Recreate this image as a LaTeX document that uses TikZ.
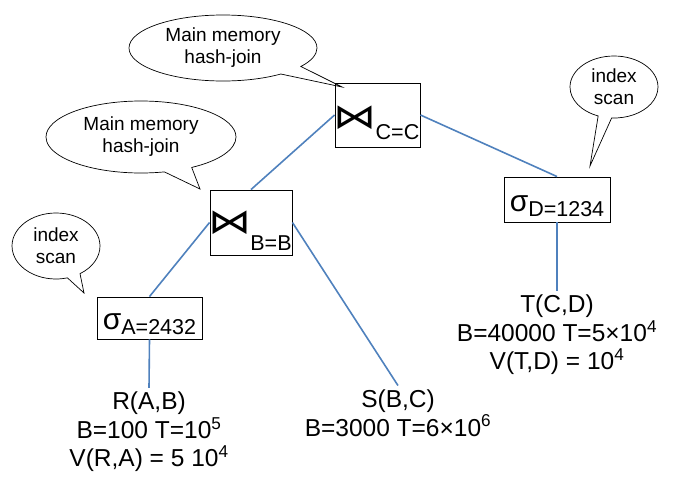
\documentclass[tikz,border=0pt]{standalone}
\usepackage{fontspec}
\usepackage{graphicx}
\setmainfont{Liberation Sans}
\newfontfamily\symfont{DejaVu Sans}
\usetikzlibrary{shapes.callouts}
\definecolor{linkblue}{RGB}{79,129,189}
\newcommand{\jointie}{\kern-2pt\scalebox{1}[0.8]{\symfont\fontsize{43}{43}\selectfont ⋈}\kern-1pt}
\newcommand{\selsig}{{\fontsize{30}{30}\selectfont σ}}

\begin{document}
\begin{tikzpicture}[x=1pt, y=-1pt,
    opbox/.style={draw=black, line width=0.9pt, rectangle, inner xsep=0pt, inner ysep=0pt, font=\fontsize{21.5}{21.5}\selectfont},
    relnote/.style={align=center, inner sep=4pt, font=\fontsize{24.5}{28.5}\selectfont},
    bubble/.style={ellipse callout, draw=black, line width=0.7pt, inner sep=0pt, align=center, callout pointer arc=18, font=\fontsize{19}{22}\selectfont},
    link/.style={draw=linkblue, line width=1.6pt}]
  \useasboundingbox (0,0) rectangle (678,480);

  % operators
  \node[opbox, minimum width=85pt, text height=45pt, text depth=19pt] (joinCC) at (377.5,115) {\jointie\raisebox{-11pt}{C=C}};
  \node[opbox, minimum width=82pt, text height=43pt, text depth=22pt] (joinBB) at (251,222.5) {\jointie\raisebox{-17pt}{B=B}};
  \node[opbox, minimum width=105pt, text height=32pt, text depth=10pt] (selA) at (149.5,318) {\selsig\raisebox{-5pt}{A=2432}};
  \node[opbox, minimum width=106pt, text height=34pt, text depth=11pt] (selD) at (557,199.5) {\selsig\raisebox{-5pt}{D=1234}};

  % relations
  \node[relnote] (relR) at (149,432) {R(A,B)\\B=100 T=10\textsuperscript{5}\\V(R,A) = 5 10\textsuperscript{4}};
  \node[relnote] (relS) at (398,413) {S(B,C)\\B=3000 T=6×10\textsuperscript{6}};
  \node[relnote] (relT) at (557,335) {T(C,D)\\B=40000 T=5×10\textsuperscript{4}\\V(T,D) = 10\textsuperscript{4}};

  % tree edges
  \draw[link] (joinCC.west) -- (joinBB.north);
  \draw[link] (joinCC.east) -- (selD.north);
  \draw[link] (joinBB.west) -- (selA.north);
  \draw[link] (joinBB.east) -- (relS.north);
  \draw[link] (selA.south) -- (relR.north);
  \draw[link] (selD.south) -- (relT.north);

  % remarks
  \coordinate (tipCC) at (342,87);
  \coordinate (tipBB) at (200,189);
  \coordinate (tipA) at (84,293);
  \coordinate (tipD) at (590,166);
  \node[bubble, minimum width=188pt, minimum height=66pt, callout absolute pointer={(tipCC)}] (noteCC) at (223,48) {Main memory\\hash-join};
  \node[bubble, minimum width=190pt, minimum height=72pt, callout absolute pointer={(tipBB)}] (noteBB) at (141,137) {Main memory\\hash-join};
  \node[bubble, minimum width=88pt, minimum height=66pt, callout absolute pointer={(tipA)}] (noteA) at (56,246) {index\\scan};
  \node[bubble, minimum width=88pt, minimum height=62pt, callout absolute pointer={(tipD)}] (noteD) at (614,87) {index\\scan};
\end{tikzpicture}
\end{document}
